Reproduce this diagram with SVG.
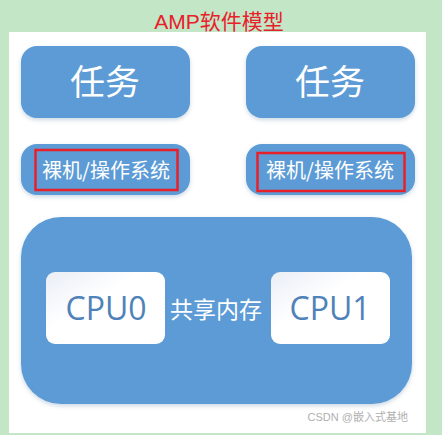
<svg xmlns="http://www.w3.org/2000/svg" width="442" height="435" viewBox="0 0 442 435">
<defs>
<style>
.box{fill:#5B9BD5;}
.t{font-family:"Noto Sans CJK SC","Liberation Sans",sans-serif;fill:#FFFFFF;text-anchor:middle;}
.red{fill:none;stroke:#E8202A;stroke-width:2.5;}
.cpt{font-family:"Open Sans","Noto Sans",sans-serif;font-size:32px;fill:#4E82B8;text-anchor:middle;}
</style>
<filter id="sh" x="-10%" y="-10%" width="120%" height="130%">
<feDropShadow dx="0" dy="2" stdDeviation="2" flood-color="#7090b0" flood-opacity="0.35"/>
</filter>
<linearGradient id="cg" x1="0" y1="0" x2="1" y2="1">
<stop offset="0" stop-color="#E9EEF6"/>
<stop offset="0.4" stop-color="#FFFFFF"/>
</linearGradient>
</defs>
<rect x="0" y="0" width="442" height="435" fill="#C2E6C6"/>
<rect x="9" y="32" width="417" height="401" fill="#FFFFFF"/>
<text x="219" y="29" font-family="Liberation Sans,'Noto Sans CJK SC',sans-serif" font-size="21" fill="#E8202A" text-anchor="middle">AMP软件模型</text>
<g id="task0"><rect class="box" x="21" y="46" width="169" height="72" rx="16" filter="url(#sh)"/><text class="t" x="105" y="95" font-size="35">任务</text></g>
<g id="task1"><rect class="box" x="246" y="46" width="169" height="72" rx="16" filter="url(#sh)"/><text class="t" x="330" y="95" font-size="35">任务</text></g>
<g id="os0"><rect class="box" x="21" y="144" width="169" height="51" rx="16" filter="url(#sh)"/><text class="t" x="106" y="178" font-size="20">裸机/操作系统</text><rect class="red" x="35.5" y="150" width="142" height="40"/></g>
<g id="os1"><rect class="box" x="246" y="144" width="169" height="51" rx="16" filter="url(#sh)"/><text class="t" x="330" y="178" font-size="20">裸机/操作系统</text><rect class="red" x="257.5" y="153" width="147" height="38"/></g>
<g id="mem"><rect class="box" x="21" y="217" width="391" height="187" rx="40" filter="url(#sh)"/><text class="t" x="216" y="318" font-size="23">共享内存</text></g>
<g id="cpu0"><rect x="46" y="272" width="119" height="72" rx="9" fill="url(#cg)"/><text class="cpt" x="106" y="320">CPU0</text></g>
<g id="cpu1"><rect x="271" y="272" width="119" height="72" rx="9" fill="url(#cg)"/><text class="cpt" x="330" y="320">CPU1</text></g>
<g id="connectors"></g>
<text x="408" y="421" font-family="'Liberation Sans','Noto Sans CJK SC',sans-serif" font-size="11" fill="#B0B0B0" text-anchor="end">CSDN @嵌入式基地</text>
</svg>
